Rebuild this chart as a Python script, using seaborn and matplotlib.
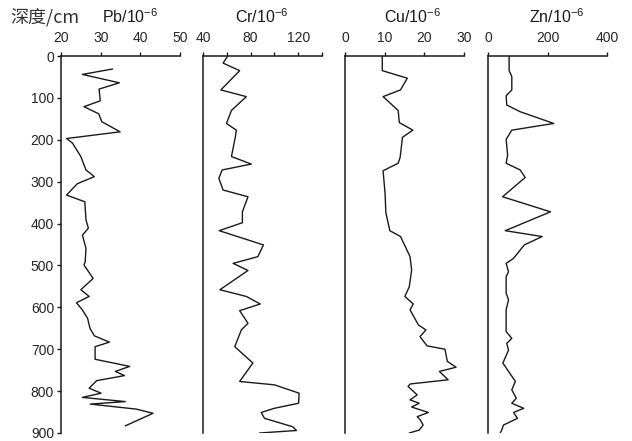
import matplotlib
matplotlib.use("Agg")
import matplotlib.pyplot as plt
import seaborn as sns
import pandas as pd

# ---- data ----
pb_depth = [31, 44, 64, 79, 107, 121, 138, 157, 181, 197, 208, 240, 272, 288, 305, 332, 348, 391, 411, 428,
            459, 491, 499, 531, 558, 574, 589, 605, 626, 650, 668, 683, 694, 724, 741, 753, 763, 775, 793,
            805, 815, 825, 831, 843, 853, 883]
pb_val = [33.0, 25.4, 34.7, 29.6, 29.9, 25.8, 29.5, 30.3, 34.9, 21.4, 22.9, 25.0, 26.3, 28.4, 24.1, 21.4,
          26.0, 26.3, 26.9, 25.4, 26.3, 26.1, 25.8, 28.1, 25.0, 27.1, 23.9, 25.3, 26.7, 27.3, 28.4, 32.2,
          28.6, 28.6, 37.3, 33.7, 36.0, 29.0, 27.1, 30.1, 25.4, 36.2, 27.4, 39.0, 43.2, 36.2]

cr_depth = [2, 17, 35, 81, 97, 130, 161, 177, 193, 240, 258, 272, 292, 320, 336, 372, 398, 417, 451, 479,
            495, 512, 558, 574, 592, 608, 638, 654, 694, 733, 777, 785, 805, 829, 841, 851, 865, 885, 894, 900]
cr_val = [60.3, 56.9, 70.8, 55.0, 76.4, 63.9, 59.7, 68.0, 67.2, 63.9, 80.6, 56.1, 53.3, 56.9, 77.8, 73.1,
          73.1, 53.6, 90.8, 86.1, 65.3, 77.8, 54.2, 76.4, 88.1, 70.8, 77.8, 72.2, 66.7, 81.9, 70.8, 100.0,
          120.8, 120.3, 100.0, 88.9, 91.7, 115.3, 118.6, 87.5]

cu_depth = [0, 35, 53, 81, 97, 130, 159, 177, 194, 242, 256, 274, 328, 374, 417, 431, 479, 511, 551, 574,
            592, 606, 642, 654, 670, 692, 700, 729, 743, 753, 773, 783, 789, 809, 821, 829, 838, 851, 861,
            869, 881, 893, 900]
cu_val = [9.4, 9.4, 15.7, 14.0, 9.6, 13.4, 13.7, 17.1, 14.5, 13.9, 13.4, 9.6, 10.1, 10.3, 11.3, 14.0, 16.4,
          16.8, 16.2, 15.1, 17.2, 16.4, 18.5, 20.4, 18.9, 20.7, 25.2, 25.8, 28.0, 23.8, 26.0, 16.4, 15.9,
          18.2, 16.4, 18.7, 16.8, 21.0, 18.2, 19.0, 19.7, 18.7, 16.2]

zn_depth = [0, 35, 49, 81, 95, 117, 133, 161, 177, 199, 236, 256, 272, 290, 336, 372, 417, 431, 451, 483,
            495, 515, 527, 566, 582, 606, 658, 674, 686, 702, 733, 777, 797, 817, 829, 841, 851, 865, 881,
            893, 900]
zn_val = [71, 71, 80, 80, 61, 63, 108, 221, 80, 61, 66, 61, 108, 125, 49, 210, 58, 182, 122, 86, 61, 69, 61,
          61, 69, 61, 61, 80, 63, 69, 50, 92, 80, 95, 80, 120, 86, 99, 52, 46, 41]

titles = [r"Pb/10$^{-6}$", r"Cr/10$^{-6}$", r"Cu/10$^{-6}$", r"Zn/10$^{-6}$"]
xlims = [(20, 50), (40, 140), (0, 30), (0, 400)]
xticks = [[20, 30, 40, 50], [40, 60, 80, 100, 120, 140], [0, 10, 20, 30], [0, 200, 400]]
xticklabels = [["20", "30", "40", "50"], ["40", "", "80", "", "120", ""], ["0", "10", "20", "30"],
               ["0", "200", "400"]]
depth_ticks = [0, 100, 200, 300, 400, 500, 600, 700, 800, 900]
depth_label = "深度/cm"

# ---- styling ----
sns.set_theme(style="white")
plt.rcParams["font.family"] = ["Liberation Sans", "DejaVu Sans"]
plt.rcParams["mathtext.fontset"] = "custom"
plt.rcParams["mathtext.rm"] = "Liberation Sans"
plt.rcParams["mathtext.it"] = "Liberation Sans"
plt.rcParams["mathtext.default"] = "regular"

fig = plt.figure(figsize=(6.32, 4.41), dpi=100)
fig.patch.set_facecolor("white")

lefts = [61, 203, 345, 488]
width = 119
top_px, bot_px = 56, 433
W, H = 632, 441

series = [(pb_val, pb_depth), (cr_val, cr_depth), (cu_val, cu_depth), (zn_val, zn_depth)]
title_x = [130, 262, 413, 557]

for i, (vals, dep) in enumerate(series):
    ax = fig.add_axes([lefts[i] / W, 1 - bot_px / H, width / W, (bot_px - top_px) / H])
    df = pd.DataFrame({"v": vals, "d": dep})
    sns.lineplot(data=df, x="v", y="d", sort=False, estimator=None, ax=ax,
                 color="#1a1a1a", linewidth=1.0)
    ax.set_xlim(*xlims[i])
    ax.set_ylim(900, 0)
    ax.set_xlabel("")
    ax.set_ylabel("")
    ax.set_facecolor("white")
    for s in ["bottom", "right"]:
        ax.spines[s].set_visible(False)
    for s in ["top", "left"]:
        ax.spines[s].set_visible(True)
        ax.spines[s].set_color("#1a1a1a")
        ax.spines[s].set_linewidth(1.1)
    ax.xaxis.tick_top()
    ax.set_xticks(xticks[i])
    ax.set_xticklabels(xticklabels[i])
    ax.tick_params(axis="x", which="major", direction="out", length=3, width=1.0,
                   color="#1a1a1a", labelsize=10, pad=5, top=True, bottom=False)
    if i == 0:
        ax.set_yticks(depth_ticks)
        ax.set_yticklabels([str(t) for t in depth_ticks])
        ax.tick_params(axis="y", direction="out", length=3, width=1.0, color="#1a1a1a",
                       labelsize=10, pad=2, left=True)
    else:
        ax.set_yticks([])
    fig.text(title_x[i] / W, 1 - 17 / H, titles[i], ha="center", va="center", fontsize=11.5,
             color="#1a1a1a")

fig.text(10 / W, 1 - 17 / H, depth_label, ha="left", va="center", fontsize=13,
         family=["Noto Sans CJK SC", "DejaVu Sans"], color="#333333")

fig.savefig("out.png", dpi=100, facecolor="white")
